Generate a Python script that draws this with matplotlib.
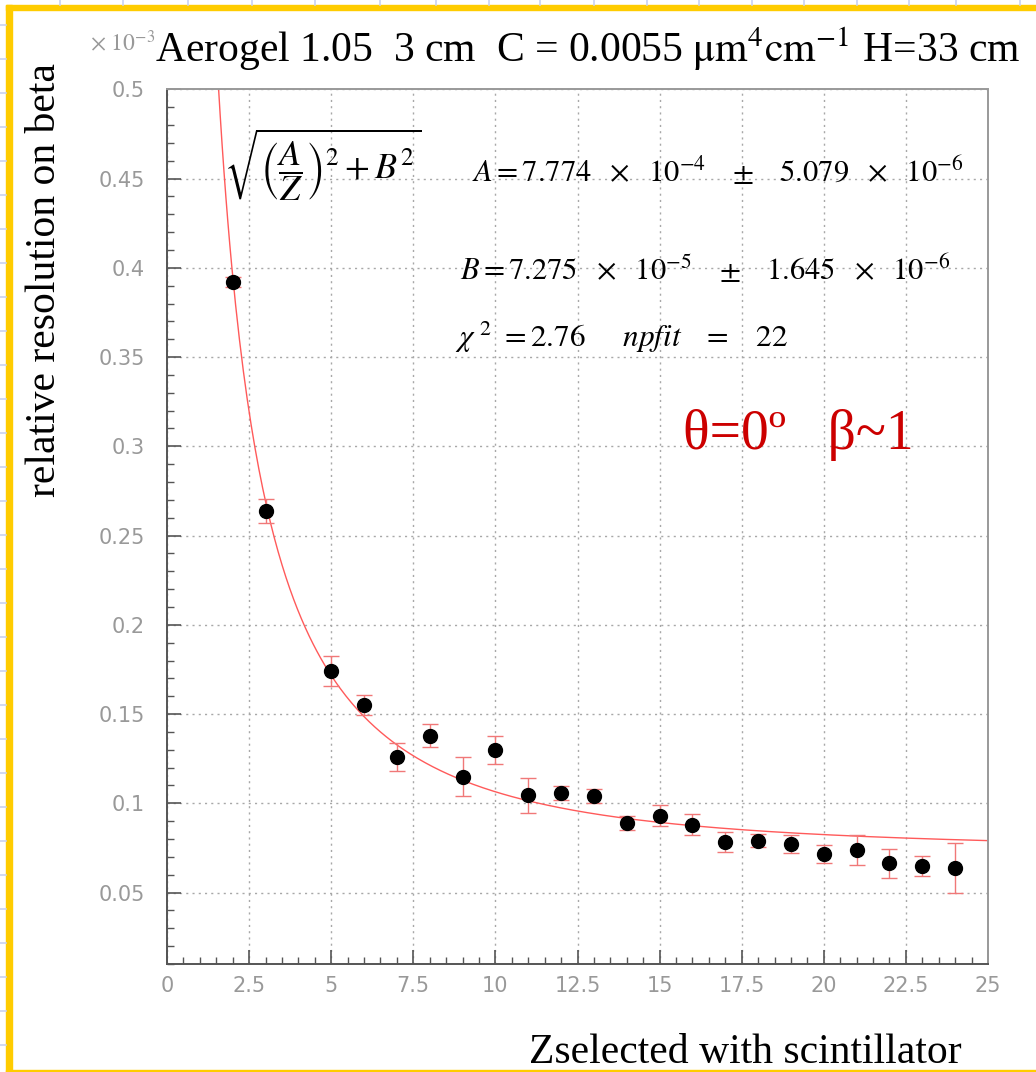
import numpy as np
import matplotlib
matplotlib.use('Agg')
from matplotlib import pyplot as plt
from matplotlib.patches import Rectangle
from matplotlib.lines import Line2D

# measured points (resolution in units of 1e-3)
z = [2, 3, 5, 6, 7, 8, 9, 10, 11, 12, 13, 14, 15, 16, 17, 18, 19, 20, 21, 22, 23, 24]
res = [0.392, 0.264, 0.174, 0.155, 0.126, 0.138, 0.115, 0.130, 0.1045, 0.106, 0.104,
       0.089, 0.093, 0.088, 0.0786, 0.079, 0.077, 0.0716, 0.074, 0.0664, 0.065, 0.064]
err = [0.003, 0.0067, 0.0083, 0.0055, 0.0078, 0.0066, 0.0108, 0.0079, 0.0098, 0.0039, 0.0039,
       0.0039, 0.0059, 0.006, 0.0056, 0.0037, 0.005, 0.005, 0.0084, 0.0083, 0.0055, 0.014]

# fit parameters (x 1e-3)
A_fit = 0.7774
B_fit = 0.07275

yticks = [0.05, 0.1, 0.15, 0.2, 0.25, 0.3, 0.35, 0.4, 0.45, 0.5]
ytick_labels = ['0.05', '0.1', '0.15', '0.2', '0.25', '0.3', '0.35', '0.4', '0.45', '0.5']
xticks = [0, 2.5, 5, 7.5, 10, 12.5, 15, 17.5, 20, 22.5, 25]
xtick_labels = ['0', '2.5', '5', '7.5', '10', '12.5', '15', '17.5', '20', '22.5', '25']

plt.rcParams['mathtext.fontset'] = 'stix'
serif = ['Liberation Serif', 'DejaVu Serif']

fig = plt.figure(figsize=(10.36, 10.72), dpi=100)

# spreadsheet background lines + yellow slide border
for xp in [60, 123, 188, 252, 315, 380, 436, 489, 540, 594, 647, 699, 752, 804, 857, 909, 956, 1020]:
    fig.add_artist(Line2D([xp / 1036, xp / 1036], [1 - 5 / 1072, 1], color='#c8d2f2', lw=1.2,
                          transform=fig.transFigure))
for yp in range(25, 1072, 34):
    fig.add_artist(Line2D([0, 6 / 1036], [1 - yp / 1072, 1 - yp / 1072], color='#c8d2f2', lw=1.2,
                          transform=fig.transFigure))
yellow = '#ffcc00'
fig.add_artist(Rectangle((6 / 1036, 0), 6 / 1036, 1 - 5 / 1072, color=yellow, transform=fig.transFigure))
fig.add_artist(Rectangle((6 / 1036, 1 - 10 / 1072), 1, 5 / 1072, color=yellow, transform=fig.transFigure))
fig.add_artist(Rectangle((6 / 1036, 0), 1, 2 / 1072, color=yellow, transform=fig.transFigure))

ax = fig.add_axes([167 / 1036, 1 - 964 / 1072, (988 - 167) / 1036, (964 - 89.3) / 1072])

zz = np.linspace(1.5, 25, 400)
ax.plot(zz, np.sqrt((A_fit / zz) ** 2 + B_fit ** 2), color='#ff5a5a', lw=1.0, zorder=2)
ax.errorbar(z, res, yerr=err, fmt='none', ecolor='#f07878', elinewidth=1.0, capsize=5.5, capthick=1.0, zorder=3)
ax.plot(z, res, 'o', color='black', markersize=10, zorder=4)

ax.set_xlim(0, 25)
ax.set_ylim(0.01, 0.5)
ax.set_xticks(xticks)
ax.set_xticklabels(xtick_labels)
ax.set_yticks(yticks)
ax.set_yticklabels(ytick_labels)
ax.set_xticks(np.arange(0, 25.01, 0.5), minor=True)
ax.set_yticks(np.arange(0.01, 0.501, 0.01), minor=True)
ax.tick_params(which='both', direction='in', top=False, right=False, color='#555555')
ax.tick_params(which='major', length=10, width=1.2, labelsize=15, labelcolor='#999999')
ax.tick_params(which='minor', length=5, width=1.0)
ax.tick_params(axis='y', which='major', pad=16)
ax.tick_params(axis='x', which='major', pad=9)
for lab in ax.get_xticklabels() + ax.get_yticklabels():
    lab.set_family('DejaVu Sans')
ax.grid(True, which='major', color='#a8a8a8', linestyle=(0, (1.5, 3)), lw=1.0)
for s in ['left', 'bottom']:
    ax.spines[s].set_color('#555555')
    ax.spines[s].set_linewidth(1.4)
for s in ['top', 'right']:
    ax.spines[s].set_color('#999999')
    ax.spines[s].set_linestyle((0, (1.5, 1)))
    ax.spines[s].set_linewidth(1.4)

# formula and fit results
ax.text(4.75, 0.458, r'$\sqrt{\left(\dfrac{A}{Z}\right)^2 + B^2}$', fontsize=26, ha='center', va='center')
ax.text(9.29, 0.4481, r'$A = 7.774\ \ \times\ \ 10^{-4}\ \ \ \pm\ \ \ 5.079\ \ \times\ \ 10^{-6}$',
        fontsize=22, ha='left', va='baseline')
ax.text(8.92, 0.393, r'$B = 7.275\ \ \times\ \ 10^{-5}\ \ \ \pm\ \ \ 1.645\ \ \times\ \ 10^{-6}$',
        fontsize=22, ha='left', va='baseline')
ax.text(8.77, 0.3556, r'$\chi^{\ 2}\ = 2.76\quad\ \ npfit\ \ \ =\ \ \ 22$',
        fontsize=22.5, ha='left', va='baseline')
ax.text(15.7, 0.2987, 'θ=0º   β~1', color='#cc0000', fontsize=40, family=serif,
        ha='left', va='baseline')

# title, axis labels, exponent
fig.text(155 / 1036, 1 - 62 / 1072, r'Aerogel 1.05  3 cm  C = 0.0055 $\mathrm{\mu m^{4}cm^{-1}}$ H=33 cm',
         fontsize=30, family=serif, ha='left', va='baseline')
fig.text(90 / 1036, 1 - 51 / 1072, r'$\times\ \mathrm{10^{-3}}$', fontsize=17, color='#999999',
         ha='left', va='baseline')
fig.text(45 / 1036, 1 - 280 / 1072, 'relative resolution on beta', fontsize=30, family=serif,
         rotation=90, ha='center', va='center')
fig.text(962 / 1036, 1 - 1063 / 1072, 'Zselected with scintillator', fontsize=30, family=serif,
         ha='right', va='baseline')

plt.savefig('out.png', dpi=100)
